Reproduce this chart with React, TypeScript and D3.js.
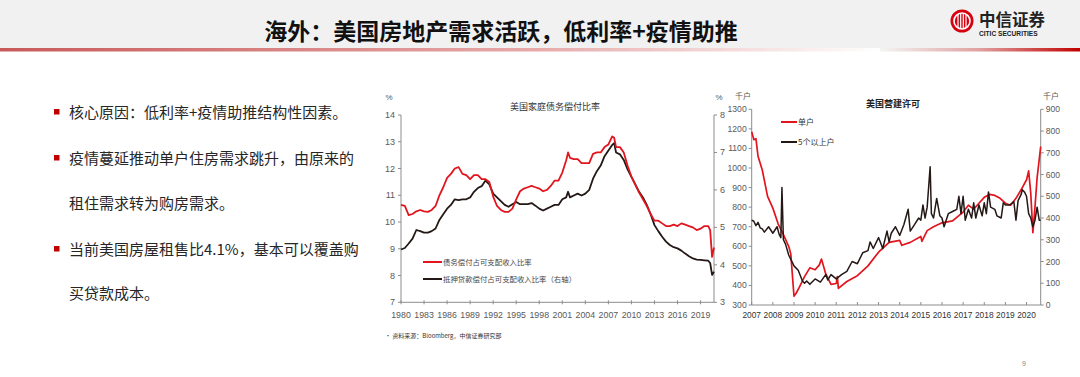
import React from "react";
import * as d3 from "d3";

// ---------- Left chart data: US household debt service ratios ----------
const hhTimes = [
  1980, 1980.5, 1981, 1981.5, 1982, 1982.5, 1983, 1983.5, 1984, 1984.5,
  1985, 1985.5, 1986, 1986.5, 1987, 1987.5, 1988, 1988.5, 1989, 1989.5,
  1990, 1990.5, 1991, 1991.5, 1992, 1992.5, 1993, 1993.5, 1994, 1994.5,
  1995, 1995.5, 1996, 1996.5, 1997, 1997.5, 1998, 1998.5, 1999, 1999.5,
  2000, 2000.5, 2001, 2001.5, 2001.75, 2002, 2002.5, 2003, 2003.5, 2004, 2004.5,
  2005, 2005.5, 2006, 2006.5, 2007, 2007.5, 2007.75, 2008, 2008.5, 2009, 2009.5,
  2010, 2010.5, 2011, 2011.5, 2012, 2012.5, 2013, 2013.5, 2014, 2014.5,
  2015, 2015.5, 2016, 2016.5, 2017, 2017.5, 2018, 2018.5, 2019, 2019.5,
  2020, 2020.25, 2020.5, 2020.75,
];
const debtServiceRatio = [
  10.64, 10.6, 10.26, 10.3, 10.4, 10.45, 10.4, 10.38, 10.45, 10.6,
  11.0, 11.3, 11.65, 11.8, 12.0, 12.05, 11.8, 11.75, 11.6, 11.75,
  11.75, 11.6, 11.6, 11.5, 10.95, 10.6, 10.45, 10.38, 10.38, 10.5,
  10.85, 11.15, 11.25, 11.3, 11.35, 11.3, 11.25, 11.15, 11.2, 11.35,
  11.55, 11.55, 11.85, 12.3, 12.6, 12.4, 12.35, 12.35, 12.2, 12.2, 12.2,
  12.55, 12.6, 12.6, 12.8, 12.9, 13.2, 13.15, 12.8, 12.8, 12.6, 12.1,
  11.7, 11.4, 11.1, 10.85, 10.6, 10.3, 10.05, 10.05, 9.95, 9.85,
  9.85, 9.9, 9.85, 9.95, 9.9, 9.85, 9.8, 9.7, 9.75, 9.85,
  9.85, 9.7, 8.7, 9.05,
];
const mortgageServiceRatio = [
  4.41, 4.45, 4.57, 4.7, 4.93, 4.9, 4.86, 4.86, 4.9, 4.97,
  5.2, 5.35, 5.5, 5.6, 5.75, 5.73, 5.75, 5.75, 5.8, 5.95,
  6.05, 6.1, 6.25, 6.15, 5.9, 5.8, 5.7, 5.6, 5.55, 5.62,
  5.68, 5.62, 5.62, 5.62, 5.65, 5.58, 5.5, 5.45, 5.5, 5.55,
  5.6, 5.6, 5.75, 5.8, 5.95, 5.8, 5.85, 5.9, 5.85, 5.9, 6.0,
  6.3, 6.5, 6.65, 6.9, 7.05, 7.2, 7.25, 7.0, 6.95, 6.8, 6.55,
  6.35, 6.15, 5.95, 5.8, 5.6, 5.35, 5.06, 4.9, 4.75, 4.62,
  4.53, 4.47, 4.44, 4.38, 4.3, 4.23, 4.17, 4.14, 4.13, 4.12,
  4.11, 4.05, 3.73, 3.82,
];
const hhYearTicks = [1980, 1983, 1986, 1989, 1992, 1995, 1998, 2001, 2004, 2007, 2010, 2013, 2016, 2019];
const hhLeftTicks = [7, 8, 9, 10, 11, 12, 13, 14];
const hhRightTicks = [3, 4, 5, 6, 7, 8];

// ---------- Right chart data: US building permits ----------
const singleTimes = [
  2007, 2007.1, 2007.2, 2007.3, 2007.5, 2007.75, 2008, 2008.25, 2008.5, 2008.75, 2008.85,
  2009, 2009.1, 2009.25, 2009.5, 2009.75, 2010, 2010.2, 2010.3, 2010.5, 2010.75,
  2011, 2011.05, 2011.1, 2011.5, 2012, 2012.5, 2013, 2013.5, 2014, 2014.1, 2014.5,
  2015, 2015.05, 2015.3, 2015.6, 2016, 2016.5, 2017, 2017.25, 2017.5, 2017.75,
  2018, 2018.25, 2018.5, 2018.75, 2019, 2019.25, 2019.5, 2019.75, 2020, 2020.1,
  2020.2, 2020.3, 2020.4, 2020.5, 2020.67,
];
const singleUnits = [
  1185, 1145, 1150, 1060, 990, 855, 795, 715, 660, 600, 560,
  345, 360, 390, 445, 490, 480, 505, 535, 460, 405,
  410, 445, 385, 420, 450, 500, 570, 620, 630, 605, 620,
  650, 625, 680, 700, 720, 730, 775, 810, 790, 820,
  850, 865, 860, 845, 820, 810, 845, 890, 940, 985,
  870, 670, 800, 950, 1110,
];
const multiTimes = [
  2007, 2007.1, 2007.2, 2007.3, 2007.4, 2007.5, 2007.6, 2007.8, 2008, 2008.1, 2008.2, 2008.3,
  2008.38, 2008.43, 2008.5, 2008.6, 2008.75, 2009, 2009.2, 2009.4, 2009.5, 2009.6, 2009.75,
  2010, 2010.25, 2010.5, 2010.6, 2010.75, 2011, 2011.25, 2011.5, 2011.75, 2012, 2012.25,
  2012.5, 2012.6, 2012.75, 2013, 2013.2, 2013.4, 2013.5, 2013.6, 2013.8, 2014, 2014.2,
  2014.4, 2014.5, 2014.7, 2014.9, 2015, 2015.1, 2015.2, 2015.3, 2015.44, 2015.5, 2015.6,
  2015.75, 2015.9, 2016, 2016.1, 2016.3, 2016.5, 2016.7, 2016.8, 2016.9, 2017, 2017.1,
  2017.25, 2017.4, 2017.5, 2017.6, 2017.75, 2017.9, 2018, 2018.1, 2018.2, 2018.3, 2018.5,
  2018.6, 2018.8, 2018.9, 2019, 2019.2, 2019.4, 2019.5, 2019.6, 2019.75, 2019.8, 2019.9,
  2020, 2020.1, 2020.2, 2020.3, 2020.4, 2020.5, 2020.6, 2020.67,
];
const multiUnits = [
  390, 385, 365, 380, 355, 350, 335, 360, 330, 345, 360, 325,
  310, 540, 300, 280, 230, 180, 160, 110, 100, 110, 95,
  120, 105, 140, 115, 140, 120, 140, 155, 200, 190, 240,
  250, 290, 260, 310, 260, 340, 290, 330, 360, 320, 370,
  440, 340, 370, 400, 390, 460, 400, 450, 636, 420, 400,
  490, 410, 400, 360, 420, 430, 440, 500, 420, 500, 390,
  440, 400, 470, 400, 460, 410, 470, 420, 520, 450, 440,
  410, 400, 470, 460, 460, 475, 390, 480, 510, 530, 520,
  500, 420, 400, 360, 390, 450, 390, 390,
];
const permitYearTicks = [2007, 2008, 2009, 2010, 2011, 2012, 2013, 2014, 2015, 2016, 2017, 2018, 2019, 2020];
const permitLeftTicks = [300, 400, 500, 600, 700, 800, 900, 1000, 1100, 1200, 1300];
const permitRightTicks = [0, 100, 200, 300, 400, 500, 600, 700, 800, 900];

// ---------- Text ----------
const slideTitle = "海外：美国房地产需求活跃，低利率+疫情助推";
const bulletLines = [
  { text: "核心原因：低利率+疫情助推结构性因素。", bullet: true },
  { text: "疫情蔓延推动单户住房需求跳升，由原来的", bullet: true },
  { text: "租住需求转为购房需求。", bullet: false },
  { text: "当前美国房屋租售比4.1%，基本可以覆盖购", bullet: true },
  { text: "买贷款成本。", bullet: false },
];

const RED = "#e2151f";
const BLACK = "#231815";
const AXIS = "#8c8c8c";
const TICKTXT = "#595959";
const LATIN = "'Liberation Sans', Arial, sans-serif";
const CJK = "'Noto Sans CJK SC', 'Noto Sans', sans-serif";

function Header() {
  return (
    <g>
      <defs>
        <linearGradient id="lineL" x1="0" x2="1" y1="0" y2="0">
          <stop offset="0" stopColor="#c85a5a" />
          <stop offset="0.6" stopColor="#e6a8a8" />
          <stop offset="1" stopColor="#ffffff" />
        </linearGradient>
        <linearGradient id="lineR" x1="0" x2="1" y1="0" y2="0">
          <stop offset="0" stopColor="#f4f4f4" />
          <stop offset="0.5" stopColor="#e0a0a0" />
          <stop offset="1" stopColor="#c00000" />
        </linearGradient>
      </defs>
      <rect x={0} y={0} width={1080} height={48} fill="#f1f1f1" />
      <rect x={0} y={48} width={880} height={3.5} fill="url(#lineL)" />
      <rect x={880} y={48} width={200} height={3.5} fill="url(#lineR)" />
      <text x={501} y={40} textAnchor="middle" fontFamily={CJK} fontWeight={700} fontSize={23} fill="#111">
        {slideTitle}
      </text>
      {/* logo */}
      <circle cx={962} cy={21} r={11.5} fill="#d7000f" />
      <circle cx={962} cy={21} r={8} fill="none" stroke="#fff" strokeWidth={1.6} />
      {[-4, -1.3, 1.3, 4].map((d, i) => (
        <rect key={i} x={962 + d - 0.6} y={14} width={1.2} height={14} fill="#fff" />
      ))}
      <text x={979} y={26} fontFamily={CJK} fontWeight={700} fontSize={16.5} fill="#222">
        中信证券
      </text>
      <text x={979} y={36} fontFamily={LATIN} fontWeight={700} fontSize={6.6} fill="#222">
        CITIC SECURITIES
      </text>
    </g>
  );
}

function Bullets() {
  const ys = [112, 158, 203, 249, 293];
  return (
    <g>
      {bulletLines.map((b, i) => (
        <g key={i}>
          {b.bullet && <rect x={54} y={ys[i] - 3} width={5.5} height={5.5} fill="#c00000" />}
          <text x={69} y={ys[i] + 5.5} fontFamily={CJK} fontSize={15} fill="#262626">
            {b.text}
          </text>
        </g>
      ))}
    </g>
  );
}

function HouseholdChart() {
  const x = d3.scaleLinear().domain([1980, 2020.75]).range([401, 714]);
  const yL = d3.scaleLinear().domain([7, 14]).range([302.3, 115]);
  const yR = d3.scaleLinear().domain([3, 8]).range([302.3, 115]);
  const lineL = d3.line<number>().x((_, i) => x(hhTimes[i])).y((d) => yL(d));
  const lineR = d3.line<number>().x((_, i) => x(hhTimes[i])).y((d) => yR(d));
  const [x0, x1] = x.range();
  const [yb, yt] = yL.range();
  return (
    <g>
      <text x={555} y={110} textAnchor="middle" fontFamily={CJK} fontSize={9} fill="#333">
        美国家庭债务偿付比率
      </text>
      <text x={389} y={100} textAnchor="middle" fontFamily={LATIN} fontSize={8} fill={TICKTXT}>%</text>
      <text x={719} y={100} textAnchor="middle" fontFamily={LATIN} fontSize={8} fill={TICKTXT}>%</text>
      <line x1={x0} x2={x0} y1={yt} y2={yb} stroke={AXIS} strokeWidth={1} />
      <line x1={x1} x2={x1} y1={yt} y2={yb} stroke={AXIS} strokeWidth={1} />
      <line x1={x0} x2={x1} y1={yb} y2={yb} stroke={AXIS} strokeWidth={1} />
      {hhLeftTicks.map((t) => (
        <g key={"l" + t}>
          <line x1={x0 - 3} x2={x0} y1={yL(t)} y2={yL(t)} stroke={AXIS} />
          <text x={x0 - 6} y={yL(t) + 3} textAnchor="end" fontFamily={LATIN} fontSize={9} fill={TICKTXT}>{t}</text>
        </g>
      ))}
      {hhRightTicks.map((t) => (
        <g key={"r" + t}>
          <line x1={x1} x2={x1 + 3} y1={yR(t)} y2={yR(t)} stroke={AXIS} />
          <text x={x1 + 6} y={yR(t) + 3} textAnchor="start" fontFamily={LATIN} fontSize={9} fill={TICKTXT}>{t}</text>
        </g>
      ))}
      {hhYearTicks.map((t) => (
        <g key={"x" + t}>
          <line x1={x(t)} x2={x(t)} y1={yb - 2} y2={yb + 2} stroke={AXIS} />
          <text x={x(t)} y={318} textAnchor="middle" fontFamily={LATIN} fontSize={8.8} fill={TICKTXT}>{t}</text>
        </g>
      ))}
      <path d={lineR(mortgageServiceRatio) || ""} fill="none" stroke={BLACK} strokeWidth={1.8} strokeLinejoin="round" />
      <path d={lineL(debtServiceRatio) || ""} fill="none" stroke={RED} strokeWidth={1.8} strokeLinejoin="round" />
      <line x1={423} x2={442} y1={262} y2={262} stroke={RED} strokeWidth={2} />
      <text x={443} y={265} fontFamily={CJK} fontSize={7.4} fill="#444">债务偿付占可支配收入比率</text>
      <line x1={423} x2={442} y1={279} y2={279} stroke={BLACK} strokeWidth={2} />
      <text x={443} y={282} fontFamily={CJK} fontSize={7.4} fill="#444">抵押贷款偿付占可支配收入比率（右轴）</text>
    </g>
  );
}

function PermitChart() {
  const x = d3.scaleLinear().domain([2007, 2020.67]).range([751.7, 1040.7]);
  const yL = d3.scaleLinear().domain([300, 1300]).range([305, 109.3]);
  const yR = d3.scaleLinear().domain([0, 900]).range([305, 109.3]);
  const lineS = d3.line<number>().x((_, i) => x(singleTimes[i])).y((d) => yL(d));
  const lineM = d3.line<number>().x((_, i) => x(multiTimes[i])).y((d) => yR(d));
  const [x0, x1] = x.range();
  const [yb, yt] = yL.range();
  return (
    <g>
      <text x={893} y={107} textAnchor="middle" fontFamily={CJK} fontWeight={700} fontSize={9} fill="#222">
        美国营建许可
      </text>
      <text x={735} y={99} fontFamily={CJK} fontSize={8} fill={TICKTXT}>千户</text>
      <text x={1043} y={99} fontFamily={CJK} fontSize={8} fill={TICKTXT}>千户</text>
      <line x1={x0} x2={x0} y1={yt} y2={yb} stroke={AXIS} strokeWidth={1} />
      <line x1={x1} x2={x1} y1={yt} y2={yb} stroke={AXIS} strokeWidth={1} />
      <line x1={x0} x2={x1} y1={yb} y2={yb} stroke={AXIS} strokeWidth={1} />
      {permitLeftTicks.map((t) => (
        <g key={"l" + t}>
          <line x1={x0 - 3} x2={x0} y1={yL(t)} y2={yL(t)} stroke={AXIS} />
          <text x={x0 - 5} y={yL(t) + 3} textAnchor="end" fontFamily={LATIN} fontSize={8.6} fill={TICKTXT}>{t}</text>
        </g>
      ))}
      {permitRightTicks.map((t) => (
        <g key={"r" + t}>
          <line x1={x1} x2={x1 + 3} y1={yR(t)} y2={yR(t)} stroke={AXIS} />
          <text x={x1 + 5} y={yR(t) + 3} textAnchor="start" fontFamily={LATIN} fontSize={8.6} fill={TICKTXT}>{t}</text>
        </g>
      ))}
      {permitYearTicks.map((t) => (
        <g key={"x" + t}>
          <line x1={x(t)} x2={x(t)} y1={yb} y2={yb - 3} stroke={AXIS} />
          <text x={x(t)} y={318} textAnchor="middle" fontFamily={LATIN} fontSize={8.4} fill="#333">{t}</text>
        </g>
      ))}
      <path d={lineS(singleUnits) || ""} fill="none" stroke={RED} strokeWidth={1.7} strokeLinejoin="round" />
      <path d={lineM(multiUnits) || ""} fill="none" stroke={BLACK} strokeWidth={1.5} strokeLinejoin="round" />
      <line x1={781} x2={797} y1={122} y2={122} stroke={RED} strokeWidth={2} />
      <text x={798} y={125} fontFamily={CJK} fontSize={8} fill="#333">单户</text>
      <line x1={781} x2={797} y1={142} y2={142} stroke={BLACK} strokeWidth={2} />
      <text x={798} y={145} fontFamily={CJK} fontSize={8} fill="#333">5个以上户</text>
    </g>
  );
}

export default function App() {
  return (
    <svg
      width={1080}
      height={377}
      viewBox="0 0 1080 377"
      style={{ position: "fixed", left: 0, top: 0, background: "#fff" }}
    >
      <rect x={0} y={0} width={1080} height={377} fill="#fff" />
      <Header />
      <Bullets />
      <HouseholdChart />
      <PermitChart />
      <text x={385} y={338} fontFamily={CJK} fontSize={6} fill="#333">• 资料来源：Bloomberg，中信证券研究部</text>
      <text x={1022} y={366} fontFamily={LATIN} fontSize={7} fill="#888">9</text>
    </svg>
  );
}
